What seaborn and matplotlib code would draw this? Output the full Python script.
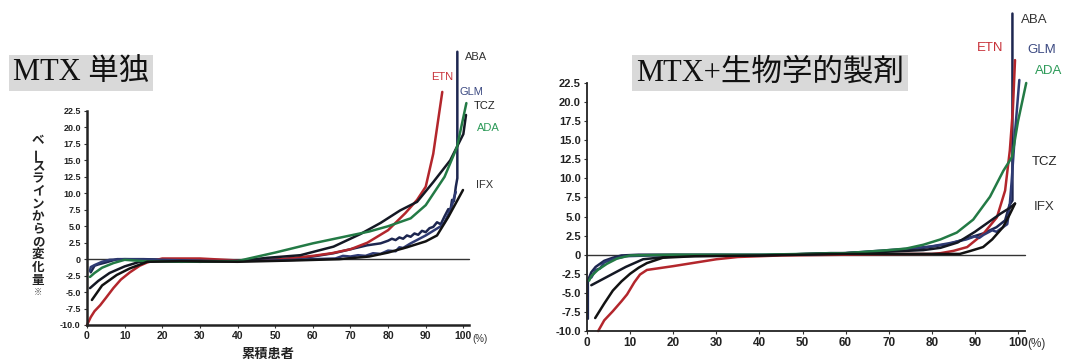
"""Cumulative probability plots of change from baseline: MTX alone vs MTX + biologics."""

import matplotlib.pyplot as plt
import pandas as pd
import seaborn as sns

sns.set_style("white")
plt.rcParams["font.family"] = ["Liberation Sans", "Noto Sans CJK JP", "DejaVu Sans"]

DRUGS = ["ABA", "ETN", "GLM", "TCZ", "ADA", "IFX"]
COLORS = {
    "ABA": "#1d2650",
    "ETN": "#b3262c",
    "GLM": "#2f3b74",
    "TCZ": "#141824",
    "ADA": "#237a45",
    "IFX": "#121212",
}
LABEL_COLORS = {
    "ABA": "#333333",
    "ETN": "#c8323a",
    "GLM": "#3c4a82",
    "TCZ": "#222222",
    "ADA": "#2c9a58",
    "IFX": "#333333",
}

# ---- MTX alone (left panel) ----
mono_aba_x = [1, 1.2, 2, 3, 5, 8, 15, 30, 45, 55, 60, 65.5, 70, 74.4, 78, 80, 81, 82, 83, 84, 85,
              86, 87, 88, 89, 90, 91, 92, 93, 94, 95, 96, 96.5, 97, 97.5, 98, 98.4, 98.4]
mono_aba_y = [-2.0, -1.8, -1.0, -0.8, -0.5, 0.0, 0.0, -0.2, -0.2, 0.1, 0.4, 0.9, 1.5, 2.1, 2.4,
              2.8, 3.1, 2.9, 3.3, 3.1, 3.6, 3.4, 3.9, 3.7, 4.3, 4.1, 4.7, 4.9, 5.6, 5.3, 6.5, 7.6,
              7.2, 9.0, 8.8, 11.0, 12.3, 31.5]
mono_etn_x = [0, 1, 2, 3.5, 5, 7, 9, 11.4, 14, 16, 20, 30, 40, 50, 60, 65, 70, 74.5, 80, 84.6,
              87.7, 90, 92, 93.4, 94.4]
mono_etn_y = [-10, -8.8, -7.9, -7.0, -5.9, -4.4, -3.1, -2.0, -1.0, -0.5, 0.1, 0.1, -0.2, -0.1,
              0.5, 0.9, 1.5, 2.5, 4.4, 7.0, 9.0, 11.0, 16.0, 21.5, 25.4]
mono_glm_x = [0.8, 1, 2, 4, 6, 10, 20, 35, 50, 60, 66, 68, 70, 72, 74, 76, 78, 80, 82, 83, 84,
              86, 88, 90, 92, 94, 95, 96, 97, 97.6, 98]
mono_glm_y = [-1.8, -1.2, -0.9, -0.4, -0.1, 0.0, -0.1, -0.3, -0.2, 0.0, 0.1, 0.5, 0.4, 0.6, 0.5,
              0.9, 0.8, 1.3, 1.2, 1.8, 1.7, 2.4, 3.0, 3.6, 4.3, 5.0, 5.6, 6.8, 8.2, 9.5, 10.2]
mono_tcz_x = [0.8, 3, 6, 10, 14, 20, 30, 40, 47.8, 56.7, 65.5, 72.6, 78, 83.2, 87.7, 92, 96.5,
              100, 100.7]
mono_tcz_y = [-4.4, -3.3, -2.1, -1.1, -0.4, -0.3, -0.4, -0.3, 0.2, 0.6, 1.9, 3.8, 5.5, 7.4, 8.7,
              11.7, 15.0, 19.0, 21.9]
mono_ada_x = [0.8, 2, 4, 7, 10, 15, 25, 40, 43, 50, 60, 70, 75, 80, 86, 90, 95, 98.3, 100.8]
mono_ada_y = [-2.7, -2.1, -1.3, -0.6, -0.1, -0.3, -0.4, -0.3, 0.1, 1.0, 2.4, 3.6, 4.2, 5.0, 6.2,
              8.2, 12.5, 17.0, 23.7]
mono_ifx_x = [1.3, 4, 7.9, 11.4, 16, 25, 40, 55, 67, 75, 80, 85, 90, 93, 96, 99.9]
mono_ifx_y = [-6.2, -4.0, -2.4, -1.4, -0.4, -0.3, -0.4, -0.2, 0.0, 0.4, 1.0, 1.8, 2.7, 3.6, 6.4,
              10.5]

# ---- MTX + biologics (right panel) ----
combo_aba_x = [0.2, 0.2, 1, 2, 4, 6, 8, 12, 20, 40, 56, 60, 70, 78, 84, 88, 92, 95, 97, 98,
               98.7, 98.7]
combo_aba_y = [-8.4, -3.4, -2.3, -1.6, -0.8, -0.4, -0.1, 0.0, 0.0, -0.1, 0.2, 0.2, 0.5, 0.9,
               1.4, 2.1, 2.8, 3.6, 4.5, 6.5, 7.1, 31.6]
combo_etn_x = [2.6, 4, 6, 8, 9.3, 11, 12.3, 13.9, 20, 30, 35, 45, 60, 75, 80, 82, 85, 88.2, 91.9,
               95.1, 97, 98.1, 98.8, 99.3]
combo_etn_y = [-10, -8.6, -7.4, -6.1, -5.2, -3.6, -2.6, -2.0, -1.5, -0.6, -0.3, -0.1, 0.0, 0.1,
               0.1, 0.2, 0.5, 1.0, 2.7, 4.9, 8.4, 13.7, 19.0, 25.5]
combo_glm_x = [1, 2, 3, 4, 6, 9, 15, 30, 50, 60, 65, 70, 75, 80, 84, 88, 90, 91, 92, 94, 95,
               96.5, 97.5, 98, 98.5, 99.3, 100.3]
combo_glm_y = [-3.0, -2.0, -1.8, -1.0, -0.6, -0.2, -0.1, 0.0, 0.0, 0.2, 0.4, 0.6, 0.8, 1.1, 1.5,
               2.0, 2.4, 2.2, 2.6, 3.2, 3.0, 3.6, 4.0, 6.0, 9.5, 16.0, 22.9]
combo_tcz_x = [1, 5, 9, 13, 20, 40, 56.5, 60, 70, 78, 82, 86, 90, 93, 96, 98, 99.3]
combo_tcz_y = [-4.0, -2.8, -1.6, -0.6, -0.2, -0.1, 0.2, 0.2, 0.4, 0.6, 0.9, 1.6, 3.0, 4.2, 5.4,
               6.1, 6.7]
combo_ada_x = [0.5, 1, 2.5, 4.6, 7, 10, 20, 40, 60, 70, 74, 78, 82, 85.8, 89.6, 93.5, 96.6, 98.6,
               100, 101.9]
combo_ada_y = [-3.4, -2.8, -2.0, -1.2, -0.5, -0.1, 0.0, 0.0, 0.2, 0.6, 0.8, 1.3, 2.0, 2.9, 4.6,
               7.6, 11.0, 12.8, 17.5, 22.5]
combo_ifx_x = [1.9, 4, 6, 8, 10, 12, 13.9, 17.6, 25, 40, 60, 80, 83, 86.5, 89, 91.9, 94, 96.5,
               98, 99.3]
combo_ifx_y = [-8.3, -6.4, -4.7, -3.5, -2.5, -1.7, -1.1, -0.4, -0.2, -0.1, 0.1, 0.1, 0.1, 0.1,
               0.5, 1.0, 2.0, 3.6, 5.2, 6.7]

y_ticks = [-10.0, -7.5, -5.0, -2.5, 0, 2.5, 5.0, 7.5, 10.0, 12.5, 15.0, 17.5, 20.0, 22.5]
y_tick_labels = ["-10.0", "-7.5", "-5.0", "-2.5", "0", "2.5", "5.0", "7.5", "10.0", "12.5",
                 "15.0", "17.5", "20.0", "22.5"]
x_ticks = [0, 10, 20, 30, 40, 50, 60, 70, 80, 90, 100]

mono = {
    "ABA": (mono_aba_x, mono_aba_y), "ETN": (mono_etn_x, mono_etn_y),
    "GLM": (mono_glm_x, mono_glm_y), "TCZ": (mono_tcz_x, mono_tcz_y),
    "ADA": (mono_ada_x, mono_ada_y), "IFX": (mono_ifx_x, mono_ifx_y),
}
combo = {
    "ABA": (combo_aba_x, combo_aba_y), "ETN": (combo_etn_x, combo_etn_y),
    "GLM": (combo_glm_x, combo_glm_y), "TCZ": (combo_tcz_x, combo_tcz_y),
    "ADA": (combo_ada_x, combo_ada_y), "IFX": (combo_ifx_x, combo_ifx_y),
}

W, H = 1085, 362


def frame(series):
    rows = []
    for drug, (xs, ys) in series.items():
        rows += [(drug, i, x, y) for i, (x, y) in enumerate(zip(xs, ys))]
    return pd.DataFrame(rows, columns=["drug", "order", "x", "y"])


def px(x, y):
    return x / W, 1 - y / H


def draw_panel(ax, series, tick_size_x, tick_size_y, spine_w):
    df = frame(series)
    ax.axhline(0, color="#333333", lw=1.0, zorder=1)
    sns.lineplot(data=df, x="x", y="y", hue="drug", units="drug", estimator=None, sort=False,
                 palette=COLORS, hue_order=DRUGS, lw=1.8, legend=False, ax=ax)
    for line in ax.lines:
        line.set_clip_on(False)
    ax.set_xlim(0, 101.5)
    ax.set_ylim(-10, 22.5)
    ax.set_xticks(x_ticks)
    ax.set_xticklabels([str(t) for t in x_ticks], fontsize=tick_size_x, fontweight="bold",
                       color="#222222")
    ax.set_yticks(y_ticks)
    ax.set_yticklabels(y_tick_labels, fontsize=tick_size_y, fontweight="bold", color="#222222")
    ax.tick_params(axis="both", length=2.5, width=0.8, pad=2, direction="out",
                   bottom=True, left=True, color="#333333")
    ax.set_xlabel("")
    ax.set_ylabel("")
    for side in ["top", "right"]:
        ax.spines[side].set_visible(False)
    for side in ["left", "bottom"]:
        ax.spines[side].set_linewidth(spine_w)
        ax.spines[side].set_color("#222222")


fig = plt.figure(figsize=(W / 100, H / 100), dpi=100)
ax_l = fig.add_axes([87 / W, (H - 325) / H, (469 - 87) / W, (325 - 111) / H])
ax_r = fig.add_axes([587 / W, (H - 331) / H, (1024.5 - 587) / W, (331 - 83) / H])

draw_panel(ax_l, mono, 7.5, 6.5, 1.8)
draw_panel(ax_r, combo, 8.5, 8, 1.3)

# titles with grey boxes
title_font = ["Liberation Serif", "Noto Sans CJK JP"]
box = dict(boxstyle="square,pad=0.12", facecolor="#d9d9d9", edgecolor="none")
fig.text(*px(81, 73), "MTX 単独", fontsize=22, family=title_font, ha="center", va="center",
         bbox=box, color="#111111")
fig.text(*px(770, 73), "MTX+生物学的製剤", fontsize=22, family=title_font, ha="center",
         va="center", bbox=box, color="#111111")

# drug labels
left_labels = {"ABA": (465, 57), "ETN": (431, 77), "GLM": (460, 92), "TCZ": (474, 106),
               "ADA": (477, 128), "IFX": (476, 185)}
right_labels = {"ABA": (1021, 20), "ETN": (977, 48), "GLM": (1027, 50), "ADA": (1035, 71),
                "TCZ": (1032, 162), "IFX": (1034, 207)}
for drug, (x, y) in left_labels.items():
    fig.text(*px(x, y), drug, fontsize=8, color=LABEL_COLORS[drug], ha="left", va="center")
for drug, (x, y) in right_labels.items():
    fig.text(*px(x, y), drug, fontsize=9.5, color=LABEL_COLORS[drug], ha="left", va="center")

# "(%)" after the 100 tick
fig.text(*px(472, 339), "(%)", fontsize=7, color="#333333", ha="left", va="center")
fig.text(*px(1027, 344), "(%)", fontsize=8.5, color="#333333", ha="left", va="center")

# x label (left panel only)
fig.text(*px(268, 355), "累積患者", fontsize=9.5, fontweight="bold", ha="center", va="center",
         color="#222222")

# vertical y label, stacked characters
ylabel = "ベースラインからの変化量"
for i, ch in enumerate(ylabel):
    fig.text(*px(38, 141 + i * 12.7), ch, fontsize=9, fontweight="bold", ha="center",
             va="center", rotation=90 if ch == "ー" else 0, color="#222222")
fig.text(*px(38, 293), "※", fontsize=6, ha="center", va="center", color="#444444")

fig.savefig("out.png", dpi=100)
